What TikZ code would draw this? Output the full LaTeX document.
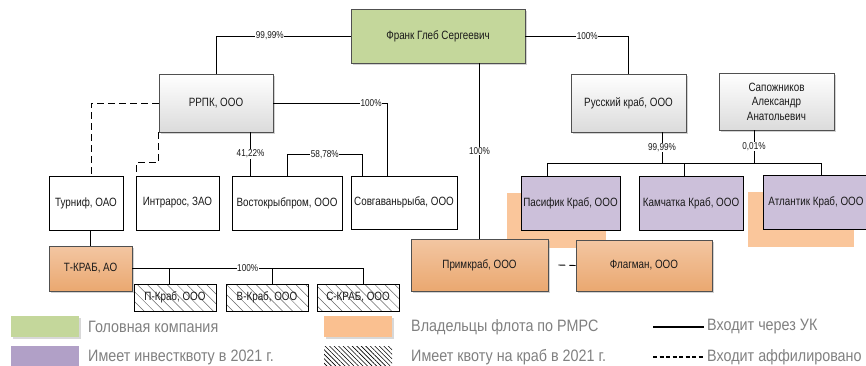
\documentclass[tikz,border=0pt]{standalone}
\usepackage{fontspec}
\setmainfont[FakeStretch=0.82]{Liberation Sans}
\newfontfamily\legfont[FakeStretch=0.87]{Liberation Sans}
\usetikzlibrary{shadows,patterns,patterns.meta,calc}
\definecolor{headgreen}{HTML}{C4D79B}
\definecolor{boxpurple}{HTML}{CCC0DA}
\definecolor{legpurple}{HTML}{B1A0C7}
\definecolor{legorange}{HTML}{FAC090}
\definecolor{orangetop}{HTML}{F3C6A2}
\definecolor{orangebot}{HTML}{EAA870}
\definecolor{bordergray}{HTML}{505050}
\definecolor{legtext}{HTML}{808080}
\definecolor{boxtext}{HTML}{1A1A1A}
\tikzset{
  basebox/.style={draw, line width=0.8pt, inner sep=1pt, align=center, text=boxtext,
    font=\fontsize{12}{14.5}\selectfont},
  shd/.style={drop shadow={shadow xshift=2pt, shadow yshift=-2pt, fill=black!35, opacity=0.5}},
  whitebox/.style={basebox, fill=white, draw=black},
  greenbox/.style={basebox, fill=headgreen, draw=bordergray, shd},
  graybox/.style={basebox, draw=bordergray, top color=white, bottom color=black!14, shd},
  orangebox/.style={basebox, draw=bordergray, top color=orangetop, bottom color=orangebot, shd},
  purplebox/.style={basebox, fill=boxpurple, draw=black},
  hatchbox/.style={basebox, draw=black, line width=0.7pt,
    pattern={Lines[angle=-45, distance=7pt, line width=0.5pt]}, pattern color=black!60},
  conn/.style={draw=black, line width=0.9pt},
  dconn/.style={draw=black, line width=0.9pt, dash pattern=on 7pt off 4pt},
  lab/.style={fill=white, inner sep=0.6pt, text=boxtext, font=\fontsize{10}{11}\selectfont},
  legtxt/.style={anchor=west, inner sep=0pt, text=legtext, font=\legfont\fontsize{16.5}{18}\selectfont},
  orshadow/.style={fill=legorange!90!white, draw=none},
}
\begin{document}
\begin{tikzpicture}[x=1pt, y=-1pt]
\useasboundingbox (0,0) rectangle (866,365);
% orange backgrounds
\fill[orshadow] (507,193) rectangle (606,248);
\fill[orshadow] (748,192) rectangle (854,247);
% nodes
\node[greenbox, minimum width=174pt, minimum height=54pt] (frank) at (438,36) {Франк Глеб Сергеевич};
\node[graybox, minimum width=114pt, minimum height=58pt] (rrpk) at (216,103) {РРПК, ООО};
\node[graybox, minimum width=115pt, minimum height=58pt] (rus) at (628.5,103) {Русский краб, ООО};
\node[graybox, minimum width=115pt, minimum height=57pt] (sap) at (776.5,101.5) {Сапожников\\Александр\\Анатольевич};
\node[whitebox, minimum width=74pt, minimum height=54pt] (turnif) at (86,203) {Турниф, ОАО};
\node[whitebox, minimum width=83pt, minimum height=54pt] (intr) at (177.5,203) {Интрарос, ЗАО};
\node[whitebox, minimum width=110pt, minimum height=54pt] (vost) at (287,203) {Востокрыбпром, ООО};
\node[whitebox, minimum width=106pt, minimum height=53pt] (sovg) at (404,202.5) {Совгаваньрыба, ООО};
\node[purplebox, minimum width=99pt, minimum height=54pt] (pas) at (570.5,203) {Пасифик Краб, ООО};
\node[purplebox, minimum width=104pt, minimum height=54pt] (kam) at (691,203) {Камчатка Краб, ООО};
\node[purplebox, minimum width=106pt, minimum height=54pt] (atl) at (816,202) {Атлантик Краб, ООО};
\node[orangebox, minimum width=83pt, minimum height=45pt] (tkrab) at (90.5,268.5) {Т-КРАБ, АО};
\node[hatchbox, minimum width=82pt, minimum height=27pt] (pkrab) at (175,297.5) {П-Краб, ООО};
\node[hatchbox, minimum width=82pt, minimum height=27pt] (vkrab) at (267,297.5) {В-Краб, ООО};
\node[hatchbox, minimum width=82pt, minimum height=27pt] (skrab) at (358,297.5) {С-КРАБ, ООО};
\node[orangebox, minimum width=137pt, minimum height=52pt] (prim) at (479.5,265) {Примкраб, ООО};
\node[orangebox, minimum width=136pt, minimum height=51pt] (flag) at (644,265.5) {Флагман, ООО};
% connectors
\draw[conn] (frank.west) -| node[lab, pos=0.3]{99,99\%} (rrpk.north);
\draw[conn] (frank.east) -| node[lab, pos=0.3]{100\%} (rus.north);
\draw[conn] (prim.north) -- node[lab, pos=0.5]{100\%} (prim.north |- frank.south);
\draw[conn] (rrpk.east) -| node[lab, pos=0.43]{100\%} ([xshift=-17pt]sovg.north);
\draw[dconn] (rrpk.west) -| ([xshift=5pt]turnif.north);
\draw[dconn] (rrpk.south west) -- ++(0,30) -| ([xshift=1pt]intr.north west);
\draw[conn] ([xshift=19pt]vost.north west) -- node[lab, pos=0.5]{41,22\%} ([xshift=19pt]vost.north west |- rrpk.south);
\draw[conn] (vost.north) -- ++(0,-21) -| node[lab, pos=0.25]{58,78\%} ([xshift=12pt]sovg.north west);
\draw[conn] (tkrab.north) -- (tkrab.north |- turnif.south);
\draw[conn] (tkrab.east) -| node[lab, pos=0.25]{100\%} ([xshift=5pt]skrab.north);
\draw[conn] ([xshift=-6pt]pkrab.north) -- ([xshift=-6pt]pkrab.north |- tkrab.east);
\draw[conn] ([xshift=5pt]vkrab.north) -- ([xshift=5pt]vkrab.north |- tkrab.east);
\draw[dconn] ([xshift=10pt]prim.east) -- (flag.west);
\coordinate (busy) at (0,163);
\draw[conn] ([xshift=27pt]pas.north west) |- ([xshift=59pt]atl.north west |- busy) -- ([xshift=59pt]atl.north west);
\draw[conn] ([xshift=46pt]kam.north west) -- ([xshift=46pt]kam.north west |- busy);
\draw[conn] ([xshift=33.5pt]rus.south) -- node[lab, pos=0.5]{99,99\%} ([xshift=33.5pt]rus.south |- busy);
\draw[conn] ([xshift=-22.5pt]sap.south) -- node[lab, pos=0.5]{0,01\%} ([xshift=-22.5pt]sap.south |- busy);
% legend
\fill[black!30, opacity=0.5] (13,318) rectangle (81,339);
\fill[headgreen] (11,316) rectangle (79,337);
\fill[legpurple] (11,346) rectangle (79,366);
\fill[black!30, opacity=0.5] (326,318) rectangle (394,339);
\fill[legorange] (324,316) rectangle (392,337);
\fill[pattern={Lines[angle=-45, distance=3.2pt, line width=0.6pt]}, pattern color=black] (324,346) rectangle (392,366);
\node[legtxt] (lg1) at (88,327) {Головная компания};
\node[legtxt] (lg2) at (88,357) {Имеет инвестквоту в 2021 г.};
\node[legtxt] (lg3) at (411,327) {Владельцы флота по РМРС};
\node[legtxt] (lg4) at (411,357) {Имеет квоту на краб в 2021 г.};
\node[legtxt] (lg5) at (707,327) {Входит через УК};
\node[legtxt] (lg6) at (707,357) {Входит аффилировано};
\coordinate (ls1) at (653,327);
\coordinate (ld1) at (653,357);
\draw[line width=2.2pt] (ls1) -- ([xshift=-3pt]lg5.west);
\draw[line width=2.2pt, dash pattern=on 4pt off 2.5pt] (ld1) -- ([xshift=-3pt]lg6.west);
\end{tikzpicture}
\end{document}
